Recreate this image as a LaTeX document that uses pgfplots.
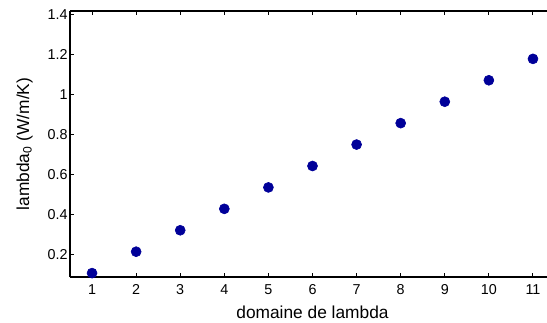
\documentclass[border=0pt]{standalone}
\usepackage{fontspec}
\setmainfont{Liberation Sans}
\usepackage{pgfplots}
\pgfplotsset{compat=1.18}
\definecolor{mblue}{RGB}{0,0,153}
\begin{document}
\begin{tikzpicture}[x=1bp,y=1bp]
\begin{axis}[
  at={(0,0)}, anchor=south west,
  scale only axis,
  width=485bp, height=266bp,
  xmin=0.5, xmax=11.5,
  ymin=0.0876, ymax=1.416,
  xtick={1,2,3,4,5,6,7,8,9,10,11},
  ytick={0.2,0.4,0.6,0.8,1,1.2,1.4},
  axis x line=box,
  axis y line=left,
  axis line style={line width=1.3bp,-},
  tick style={line width=1bp,black},
  major tick length=4bp,
  tick align=inside,
  x tick label style={font=\fontsize{14.4}{16}\selectfont, yshift=-4bp},
  y tick label style={font=\fontsize{14.4}{16}\selectfont, xshift=1bp},
  /pgf/number format/assume math mode=true,
  xlabel={domaine de lambda},
  ylabel={lambda\textsubscript{0} (W/m/K)},
  label style={font=\fontsize{17.4}{20}\selectfont},
  xlabel style={yshift=-4bp},
  ylabel style={yshift=8bp},
  clip=false,
]
\addplot[only marks, mark=*, mark size=5bp, mark options={fill=mblue, draw=mblue, line width=0.6bp}]
  coordinates {(1,0.107) (2,0.214) (3,0.321) (4,0.428) (5,0.535) (6,0.642) (7,0.749) (8,0.856) (9,0.963) (10,1.07) (11,1.177)};
\end{axis}
\pgfresetboundingbox
\path[use as bounding box] (-70bp,-46bp) rectangle (477bp,277bp);
\end{tikzpicture}
\end{document}
